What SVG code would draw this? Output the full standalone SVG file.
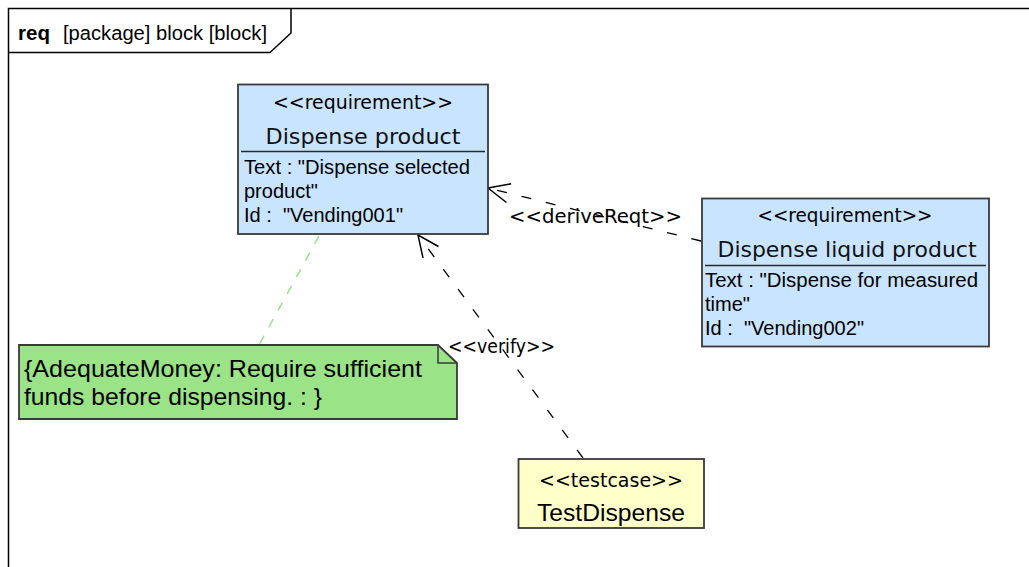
<svg xmlns="http://www.w3.org/2000/svg" width="1029" height="567" viewBox="0 0 1029 567">
  <style>
    .frame { fill: none; stroke: #000; stroke-width: 1.5; }
    .req { fill: #C8E4FF; stroke: #3a3a3a; stroke-width: 1.8; }
    .note { fill: #9AE387; stroke: #3a3a3a; stroke-width: 1.8; }
    .test { fill: #FFFFCA; stroke: #3a3a3a; stroke-width: 1.8; }
    .sep { stroke: #2a2a2a; stroke-width: 1.5; }
    .fold { fill: none; stroke: #3a3a3a; stroke-width: 1.5; }
    .stereo { font-family: "DejaVu Sans", "Liberation Sans", sans-serif; font-size: 19.5px; fill: #000; text-anchor: middle; }
    .name { font-family: "DejaVu Sans", "Liberation Sans", sans-serif; font-size: 22px; fill: #111; text-anchor: middle; }
    .attr { font-family: "Liberation Sans", Arial, sans-serif; font-size: 20px; fill: #000; }
    .notetext { font-family: "Liberation Sans", Arial, sans-serif; font-size: 24.5px; fill: #000; }
    .tcname { font-family: "Liberation Sans", Arial, sans-serif; font-size: 24px; fill: #000; text-anchor: middle; }
    .label { font-family: "DejaVu Sans", "Liberation Sans", sans-serif; font-size: 19.5px; fill: #000; }
    .dep { fill: none; stroke: #000; stroke-width: 1.3; stroke-dasharray: 10 15; }
    .anchor { fill: none; stroke: #99E287; stroke-width: 1.5; stroke-dasharray: 9 10; }
  </style>
  <defs>
    <marker id="open" markerUnits="userSpaceOnUse" markerWidth="30" markerHeight="30" refX="0" refY="0" viewBox="-24 -12 28 24" orient="auto" overflow="visible">
      <path d="M -20,-9 L 0,0 L -20,9" fill="none" stroke="#000" stroke-width="1.4"/>
    </marker>
  </defs>

  <!-- diagram frame with its name tab -->
  <g id="frame">
    <rect class="frame" x="8.5" y="8.5" width="1100" height="700"/>
    <path class="frame" d="M 8.5,52.5 L 270,52.5 L 291,33 L 291,8.5"/>
    <text x="18" y="40" font-family="'Liberation Sans', Arial, sans-serif" font-size="20.5" font-weight="bold">req</text>
    <text x="63" y="40" font-family="'Liberation Sans', Arial, sans-serif" font-size="20" textLength="204" lengthAdjust="spacingAndGlyphs">[package] block [block]</text>
  </g>

  <!-- relationships -->
  <g id="connectors">
    <path class="anchor" d="M 319,236 L 259,345"/>
    <path class="dep" d="M 701,241 L 488,188" marker-end="url(#open)"/>
    <path class="dep" d="M 583,458 L 418,235" marker-end="url(#open)"/>
    <text class="label" x="509" y="223" textLength="173" lengthAdjust="spacingAndGlyphs">&lt;&lt;deriveReqt&gt;&gt;</text>
    <text class="label" x="448" y="353" textLength="107" lengthAdjust="spacingAndGlyphs">&lt;&lt;verify&gt;&gt;</text>
  </g>

  <g id="dispense-product">
    <rect class="req" x="238" y="84.5" width="250" height="149.5"/>
    <text class="stereo" x="363" y="109" textLength="180" lengthAdjust="spacingAndGlyphs">&lt;&lt;requirement&gt;&gt;</text>
    <text class="name" x="363" y="144" textLength="195" lengthAdjust="spacingAndGlyphs">Dispense product</text>
    <line class="sep" x1="241" y1="151.5" x2="485" y2="151.5"/>
    <text class="attr" x="244" y="174" textLength="226" lengthAdjust="spacingAndGlyphs">Text : "Dispense selected</text>
    <text class="attr" x="244" y="198">product"</text>
    <text class="attr" x="244" y="222" textLength="159" lengthAdjust="spacingAndGlyphs">Id :&#160; "Vending001"</text>
  </g>

  <g id="dispense-liquid-product">
    <rect class="req" x="702" y="198.5" width="287" height="148"/>
    <text class="stereo" x="845" y="221.5" textLength="175" lengthAdjust="spacingAndGlyphs">&lt;&lt;requirement&gt;&gt;</text>
    <text class="name" x="847" y="257" textLength="259" lengthAdjust="spacingAndGlyphs">Dispense liquid product</text>
    <line class="sep" x1="705" y1="265.5" x2="986" y2="265.5"/>
    <text class="attr" x="705" y="287" textLength="273" lengthAdjust="spacingAndGlyphs">Text : "Dispense for measured</text>
    <text class="attr" x="705" y="311">time"</text>
    <text class="attr" x="705" y="335" textLength="159" lengthAdjust="spacingAndGlyphs">Id :&#160; "Vending002"</text>
  </g>

  <g id="adequate-money-note">
    <path class="note" d="M 19,345 L 438,345 L 457,363 L 457,419 L 19,419 Z"/>
    <path class="fold" d="M 438,345 L 438,363 L 457,363"/>
    <text class="notetext" x="24" y="377" textLength="398" lengthAdjust="spacingAndGlyphs">{AdequateMoney: Require sufficient</text>
    <text class="notetext" x="24" y="405" textLength="298" lengthAdjust="spacingAndGlyphs">funds before dispensing. : }</text>
  </g>

  <g id="test-dispense">
    <rect class="test" x="518.5" y="459" width="185.5" height="69"/>
    <text class="stereo" x="611" y="487" textLength="144" lengthAdjust="spacingAndGlyphs">&lt;&lt;testcase&gt;&gt;</text>
    <text class="tcname" x="611" y="521" textLength="148" lengthAdjust="spacingAndGlyphs">TestDispense</text>
  </g>
</svg>
